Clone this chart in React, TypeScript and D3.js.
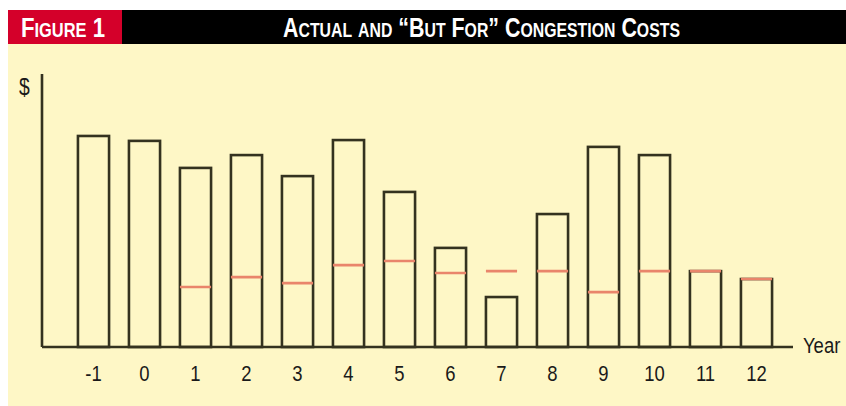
import React, { useLayoutEffect, useRef, useState } from 'react';
import * as d3 from 'd3';

const years = ['-1', '0', '1', '2', '3', '4', '5', '6', '7', '8', '9', '10', '11', '12'];
const actualCost = [77.3, 75.5, 65.6, 70.3, 62.6, 75.8, 56.8, 36.3, 18.3, 48.7, 73.3, 70.3, 27.8, 24.9];
const butForCost: (number | null)[] = [null, null, 22, 25.6, 23.4, 30, 31.5, 27.1, 27.8, 27.8, 20.1, 27.8, 27.8, 24.9];
const figureLabel = 'Figure 1';
const title = 'Actual and \u201CBut For\u201D Congestion Costs';
const yAxisLabel = '$';
const xAxisLabel = 'Year';

const W = 846;
const H = 406;
const BG = '#fef7c6';
const INK = '#34321f';
const RED = '#e9856b';
const FONT = '"Liberation Sans", Arial, sans-serif';
const NX = 0.84; // horizontal condensing of the narrow face

function SmallCapsFit({ text, x, y, width, anchor, big, small }: {
  text: string; x: number; y: number; width: number; anchor: 'start' | 'middle'; big: number; small: number;
}) {
  const ref = useRef<SVGTextElement>(null);
  const [sx, setSx] = useState(0.85);
  useLayoutEffect(() => {
    if (ref.current) {
      const w = ref.current.getBBox().width;
      if (w > 0) setSx(width / w);
    }
  }, [text, width]);
  const runs: { s: string; up: boolean }[] = [];
  for (const ch of text) {
    const up = !(ch >= 'a' && ch <= 'z');
    const last = runs[runs.length - 1];
    if (last && last.up === up) last.s += ch;
    else runs.push({ s: ch, up });
  }
  return (
    <g transform={`translate(${x},${y}) scale(${sx},1)`}>
      <text ref={ref} x={0} y={0} textAnchor={anchor} fill="#fff" fontFamily={FONT} fontWeight="bold">
        {runs.map((r, i) => (
          <tspan key={i} fontSize={r.up ? big : small}>{r.s.toUpperCase()}</tspan>
        ))}
      </text>
    </g>
  );
}

export default function App() {
  const x = d3.scaleBand<string>().domain(years).range([68, 782]).paddingInner(0.39).paddingOuter(0.195);
  const y = d3.scaleLinear().domain([0, 100]).range([347, 74]);
  const bw = x.bandwidth();
  const x0 = 42;
  const base = y(0);

  const narrow = (tx: number, ty: number) => `translate(${tx},${ty}) scale(${NX},1)`;

  return (
    <svg width={W} height={H} style={{ position: 'absolute', left: 0, top: 0 }}>
      <rect x={0} y={0} width={W} height={H} fill="#ffffff" />
      <rect x={8} y={44} width={W - 8} height={H - 44} fill={BG} />
      {/* header */}
      <rect x={8} y={10} width={114} height={34} fill="#d4002a" />
      <rect x={122} y={10} width={W - 122} height={34} fill="#000000" />
      <SmallCapsFit text={figureLabel} x={63} y={37} width={84} anchor="middle" big={27} small={20} />
      <SmallCapsFit text={title} x={283} y={37} width={397} anchor="start" big={27} small={20} />

      {/* bars */}
      {years.map((yr, i) => (
        <rect key={yr} x={x(yr)!} y={y(actualCost[i])} width={bw} height={base - y(actualCost[i])}
          fill="none" stroke={INK} strokeWidth={2.6} />
      ))}
      {years.map((yr, i) => {
        const v = butForCost[i];
        if (v == null) return null;
        return (
          <line key={'b' + yr} x1={x(yr)!} x2={x(yr)! + bw} y1={y(v)} y2={y(v)} stroke={RED} strokeWidth={2.6} />
        );
      })}

      {/* axes */}
      <line x1={x0} x2={x0} y1={y(100)} y2={base} stroke={INK} strokeWidth={2.6} />
      <line x1={x0} x2={793} y1={base} y2={base} stroke={INK} strokeWidth={2.6} />
      {years.map((yr) => (
        <text key={'t' + yr} transform={narrow(x(yr)! + bw / 2, 381)} textAnchor="middle" fontFamily={FONT}
          fontSize={22} fill="#1a1a1a">
          {yr}
        </text>
      ))}
      <text transform={narrow(19, 95)} fontFamily={FONT} fontSize={23} fill="#1a1a1a">{yAxisLabel}</text>
      <text transform={narrow(803, 353)} fontFamily={FONT} fontSize={22} fill="#1a1a1a">{xAxisLabel}</text>
    </svg>
  );
}
